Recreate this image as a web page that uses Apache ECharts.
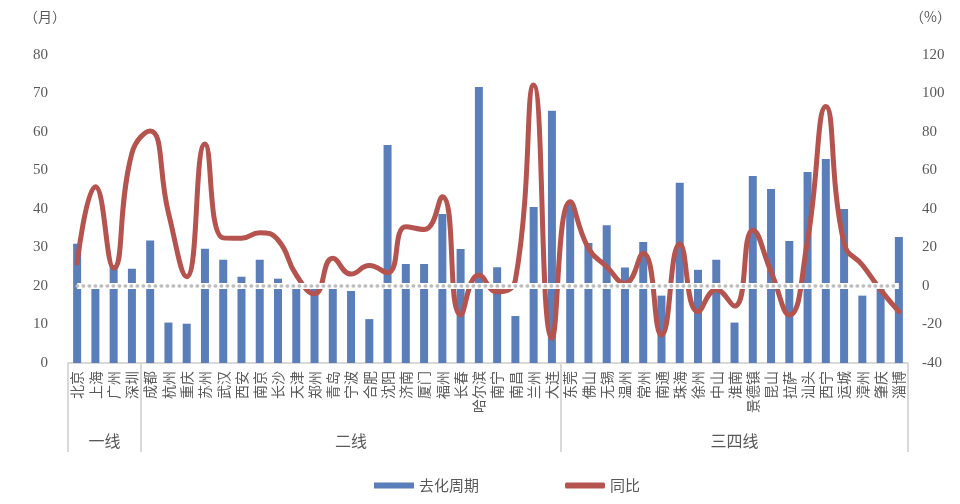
<!DOCTYPE html>
<html>
<head>
<meta charset="utf-8">
<script src="https://cdn.jsdelivr.net/npm/echarts@6/dist/echarts.min.js"></script>
<style>
  html, body { margin: 0; padding: 0; background: #fff; }
  #chart { width: 960px; height: 504px; }
</style>
</head>
<body>
<div id="chart"></div>
<script>
// 城市（按一线 / 二线 / 三四线排列）
const cities = ['北京', '上海', '广州', '深圳',
  '成都', '杭州', '重庆', '苏州', '武汉', '西安', '南京', '长沙', '天津', '郑州', '青岛', '宁波', '合肥', '沈阳', '济南', '厦门', '福州', '长春', '哈尔滨', '南宁', '南昌', '兰州', '大连',
  '东莞', '佛山', '无锡', '温州', '常州', '南通', '珠海', '徐州', '中山', '淮南', '景德镇', '昆山', '拉萨', '汕头', '西宁', '运城', '漳州', '肇庆', '淄博']
// 去化周期（月）
const cycle = [31, 20, 25.4, 24.5,
  31.8, 10.5, 10.2, 29.7, 26.8, 22.4, 26.8, 21.9, 20, 19.5, 19.4, 18.7, 11.4, 56.6, 25.7, 25.7, 38.7, 29.6, 71.7, 24.9, 12.2, 40.5, 65.5,
  41.3, 31.2, 35.8, 24.8, 31.4, 17.5, 46.8, 24.2, 26.8, 10.5, 48.6, 45.2, 31.7, 49.6, 53, 40, 17.5, 19.5, 32.7]
// 同比（%）
const yoy = [12, 51.6, 9.3, 69,
  80.5, 38, 4.8, 73.8, 25, 24.8, 27.7, 23.9, 5.7, -4, 14.4, 6.2, 10.6, 6.9, 30.8, 29.4, 46.4, -15, 5.7, -3, 3.1, 104.4, -27.2,
  43.8, 19.6, 10, 1.4, 17, -25.5, 21.8, -13.3, -2, -10.4, 29, 7.4, -15, 23.9, 93.2, 22, 10.9, -2, -13.3]
// 分组：名称、起始序号
const groupNames = ['一线', '二线', '三四线']
const groupStarts = [0, 4, 27]
const groupCenters = [2, 15.5, 36.5]

const textColor = '#595959'
const numFont = 'Liberation Serif'
const cjkFont = 'Noto Sans CJK SC'

const chart = echarts.init(document.getElementById('chart'))
const zeroLine = [
  { coord: [cities[0], 20] },
  { coord: [cities[cities.length - 1], 20] }
]
chart.setOption({
  animation: false,
  color: ['#5a7eb9', '#b5534f'],
  grid: { left: 68, right: 52, top: 55, bottom: 141 },
  legend: {
    data: [
      { name: '去化周期', icon: 'rect' },
      { name: '同比', icon: 'roundRect' }
    ],
    left: 369,
    top: 473,
    itemWidth: 40,
    itemHeight: 6,
    itemGap: 86,
    textStyle: { color: textColor, fontSize: 15, fontFamily: cjkFont }
  },
  xAxis: [
    {
      type: 'category',
      data: cities,
      axisLine: { lineStyle: { color: '#d9d9d9', width: 2 } },
      axisTick: {
        show: true,
        length: 89,
        interval: (index) => groupStarts.indexOf(index) >= 0,
        lineStyle: { color: '#d9d9d9', width: 2 }
      },
      axisLabel: {
        interval: 0,
        rotate: 90,
        margin: 8,
        color: textColor,
        fontSize: 14,
        fontFamily: cjkFont
      }
    },
    {
      type: 'value',
      position: 'bottom',
      min: 0,
      max: cities.length,
      interval: 0.5,
      axisLine: { show: false },
      axisTick: { show: false },
      splitLine: { show: false },
      axisLabel: {
        margin: 70,
        color: textColor,
        fontSize: 16,
        fontFamily: cjkFont,
        formatter: (v) => {
          const i = groupCenters.indexOf(v)
          return i >= 0 ? groupNames[i] : ''
        }
      }
    }
  ],
  yAxis: [
    {
      type: 'value',
      name: '（月）',
      nameGap: 31,
      nameTextStyle: { color: textColor, fontSize: 14, fontFamily: cjkFont, align: 'right', padding: [0, 2, 0, 0] },
      min: 0,
      max: 80,
      interval: 10,
      axisLine: { show: false },
      axisTick: { show: false },
      splitLine: { show: false },
      axisLabel: { color: textColor, fontSize: 15, fontFamily: numFont, margin: 20 }
    },
    {
      type: 'value',
      name: '（%）',
      nameGap: 31,
      nameTextStyle: { color: textColor, fontSize: 14, fontFamily: cjkFont, align: 'left', padding: [0, 0, 0, 2] },
      min: -40,
      max: 120,
      interval: 20,
      axisLine: { show: false },
      axisTick: { show: false },
      splitLine: { show: false },
      axisLabel: { color: textColor, fontSize: 15, fontFamily: numFont, margin: 14 }
    }
  ],
  series: [
    {
      name: '去化周期',
      type: 'bar',
      barWidth: 8,
      data: cycle,
      markLine: {
        silent: true,
        symbol: 'none',
        label: { show: false },
        data: [
          zeroLine.map((p, i) => i === 0 ? Object.assign({ lineStyle: { color: '#ffffff', type: 'solid', width: 6 } }, p) : p),
          zeroLine.map((p, i) => i === 0 ? Object.assign({ lineStyle: { color: '#bdbdbd', type: [0.5, 5.5], width: 3.5, cap: 'round' } }, p) : p)
        ]
      }
    },
    {
      name: '同比',
      type: 'line',
      yAxisIndex: 1,
      smooth: 0.5,
      symbol: 'none',
      lineStyle: { width: 5, cap: 'round' },
      data: yoy
    }
  ]
})
</script>
</body>
</html>
